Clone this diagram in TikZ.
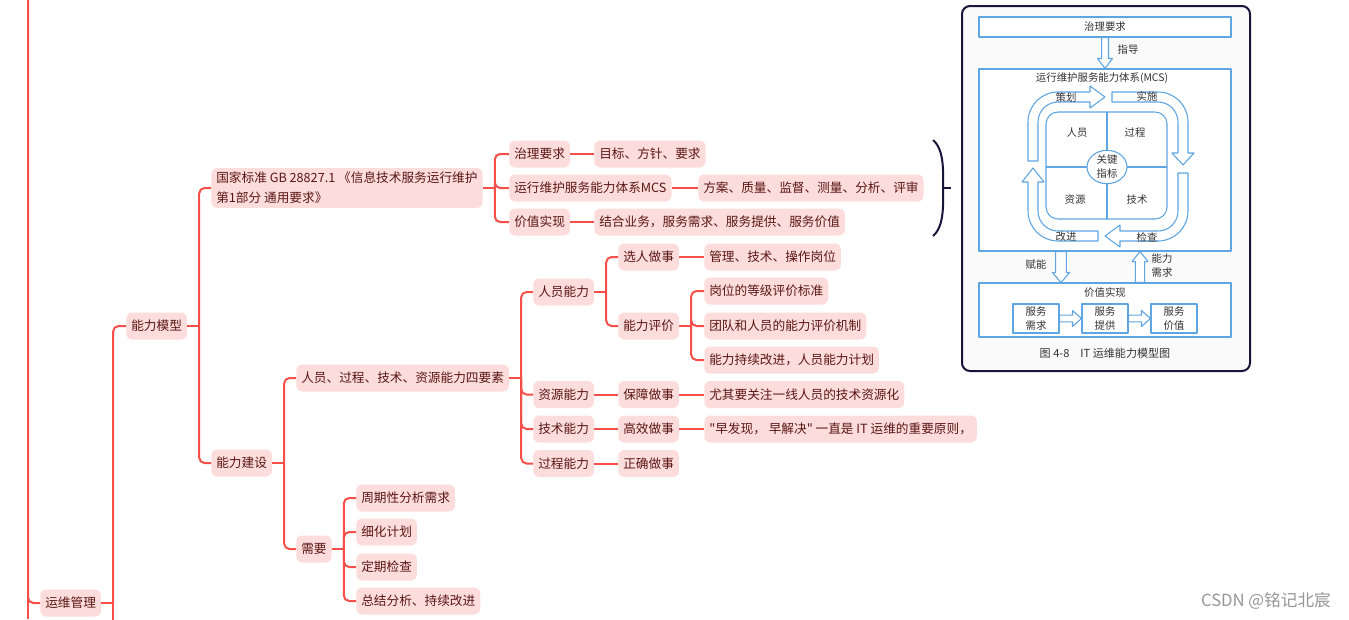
\documentclass[tikz,border=0pt]{standalone}
\usepackage{fontspec}
\newfontfamily\cjk{Noto Sans CJK SC}
\usetikzlibrary{shapes.geometric}
\definecolor{linkred}{RGB}{246,78,72}
\definecolor{topicfill}{RGB}{253,221,219}
\definecolor{topictext}{RGB}{90,22,22}
\definecolor{figblue}{RGB}{95,165,225}
\definecolor{figtext}{RGB}{50,50,50}
\definecolor{figback}{RGB}{250,250,250}
\definecolor{framenavy}{RGB}{22,22,58}
\definecolor{markgray}{RGB}{150,150,150}
\tikzset{
  topic/.style={anchor=west, fill=topicfill, text=topictext, rounded corners=4.5pt,
    inner xsep=3.75pt, inner ysep=3pt, minimum height=20.25pt, align=left,
    font=\cjk\fontsize{9.5}{15}\selectfont},
  link/.style={draw=linkred, line width=1.5pt},
  branch/.style={link, rounded corners=4pt},
  figbox/.style={draw=figblue, line width=0.8pt, fill=white, text=figtext, align=center,
    font=\cjk\fontsize{7.8}{10.5}\selectfont, inner sep=0pt},
  figlabel/.style={text=figtext, font=\cjk\fontsize{7.8}{10.5}\selectfont, align=center, inner sep=0pt},
  figarrow/.style={draw=figblue, line width=0.8pt, fill=white},
  hdown/.style n args={3}{to path={([xshift=-#1]\tikztostart) -- ([xshift=-#1,yshift=#3]\tikztotarget)
    -- ([xshift=-#2,yshift=#3]\tikztotarget) -- (\tikztotarget) -- ([xshift=#2,yshift=#3]\tikztotarget)
    -- ([xshift=#1,yshift=#3]\tikztotarget) -- ([xshift=#1]\tikztostart) -- cycle}},
  hup/.style n args={3}{to path={([xshift=-#1]\tikztostart) -- ([xshift=-#1,yshift=-#3]\tikztotarget)
    -- ([xshift=-#2,yshift=-#3]\tikztotarget) -- (\tikztotarget) -- ([xshift=#2,yshift=-#3]\tikztotarget)
    -- ([xshift=#1,yshift=-#3]\tikztotarget) -- ([xshift=#1]\tikztostart) -- cycle}},
  hright/.style n args={3}{to path={([yshift=#1]\tikztostart) -- ([yshift=#1,xshift=-#3]\tikztotarget)
    -- ([yshift=#2,xshift=-#3]\tikztotarget) -- (\tikztotarget) -- ([yshift=-#2,xshift=-#3]\tikztotarget)
    -- ([yshift=-#1,xshift=-#3]\tikztotarget) -- ([yshift=-#1]\tikztostart) -- cycle}}
}
\begin{document}
\begin{tikzpicture}[x=0.75pt, y=-0.75pt, line join=round]
\useasboundingbox (0,0) rectangle (1349,619);
% mind map topics
\node[topic] (yw) at (40,603) {运维管理};
\node[topic] (mx) at (126,326) {能力模型};
\node[topic] (gb) at (211,188) {国家标准 GB 28827.1 《信息技术服务运行维护\\第1部分 通用要求》};
\node[topic] (jb) at (211,463) {能力建设};
\node[topic] (zl) at (509,154) {治理要求};
\node[topic] (mcsn) at (509,188) {运行维护服务能力体系MCS};
\node[topic] (jz) at (509,222) {价值实现};
\node[topic] (mb) at (594,154) {目标、方针、要求};
\node[topic] (fa) at (698,188) {方案、质量、监督、测量、分析、评审};
\node[topic] (jh) at (594,222) {结合业务，服务需求、服务提供、服务价值};
\node[topic] (sy) at (296,378) {人员、过程、技术、资源能力四要素};
\node[topic] (xy) at (296,549) {需要};
\node[topic] (ry) at (533,292) {人员能力};
\node[topic] (zy) at (533,394.5) {资源能力};
\node[topic] (js) at (533,429) {技术能力};
\node[topic] (gc) at (533,463.5) {过程能力};
\node[topic] (xr) at (618,257) {选人做事};
\node[topic] (pj) at (618,326) {能力评价};
\node[topic] (bz) at (618,394.5) {保障做事};
\node[topic] (gx) at (618,429) {高效做事};
\node[topic] (zq) at (618,463.5) {正确做事};
\node[topic] (gl) at (704,257) {管理、技术、操作岗位};
\node[topic] (pa) at (704,291) {岗位的等级评价标准};
\node[topic] (pb) at (704,326) {团队和人员的能力评价机制};
\node[topic] (pc) at (704,360) {能力持续改进，人员能力计划};
\node[topic] (yq) at (704,394.5) {尤其要关注一线人员的技术资源化};
\node[topic] (zf) at (704,429) {"早发现， 早解决" 一直是 IT 运维的重要原则，};
\node[topic] (na) at (356,498) {周期性分析需求};
\node[topic] (nb) at (356,532) {细化计划};
\node[topic] (nc) at (356,567) {定期检查};
\node[topic] (nd) at (356,601) {总结分析、持续改进};
% mind map links
\coordinate (rt) at (28,0);
\coordinate (rb) at (28,619);
\draw[link] (rt) -- (rb);
\draw[branch] (rt) |- (yw.west);
\draw[link] (yw.east) -- ++(12,0) -- ++(0,30);
\draw[branch] (yw.east) ++(12,0) |- (mx.west);
\draw[link] (mx.east) -- ++(12,0);
\foreach \c in {gb,jb} \draw[branch] (mx.east) ++(12,0) |- (\c.west);
\draw[link] (gb.east) -- ++(12,0);
\foreach \c in {zl,mcsn,jz} \draw[branch] (gb.east) ++(12,0) |- (\c.west);
\draw[link] (zl.east) -- (mb.west);
\draw[link] (mcsn.east) -- (fa.west);
\draw[link] (jz.east) -- (jh.west);
\draw[link] (jb.east) -- ++(12,0);
\foreach \c in {sy,xy} \draw[branch] (jb.east) ++(12,0) |- (\c.west);
\draw[link] (sy.east) -- ++(12,0);
\foreach \c in {ry,zy,js,gc} \draw[branch] (sy.east) ++(12,0) |- (\c.west);
\draw[link] (ry.east) -- ++(12,0);
\foreach \c in {xr,pj} \draw[branch] (ry.east) ++(12,0) |- (\c.west);
\draw[link] (zy.east) -- (bz.west);
\draw[link] (js.east) -- (gx.west);
\draw[link] (gc.east) -- (zq.west);
\draw[link] (xr.east) -- (gl.west);
\draw[link] (pj.east) -- ++(12,0);
\foreach \c in {pa,pb,pc} \draw[branch] (pj.east) ++(12,0) |- (\c.west);
\draw[link] (bz.east) -- (yq.west);
\draw[link] (gx.east) -- (zf.west);
\draw[link] (xy.east) -- ++(12,0);
\foreach \c in {na,nb,nc,nd} \draw[branch] (xy.east) ++(12,0) |- (\c.west);
% brace
\draw[framenavy, line width=1.5pt] (933,140) .. controls (945,150) and (943,175) .. (943,188)
  .. controls (943,201) and (945,226) .. (933,236);
\draw[framenavy, line width=1.5pt] (943,188) -- (951,188);
% IT model figure
\draw[framenavy, line width=1.5pt, fill=figback, rounded corners=6pt] (962,6) rectangle (1250,371);
\node[figbox, minimum width=189pt, minimum height=15pt] (gov) at (1105,27) {治理要求};
\node[figbox, minimum width=189pt, minimum height=136.5pt] (mcs) at (1105,160) {};
\node[figlabel] (mcst) at (1102,78) {运行维护服务能力体系(MCS)};
\node[figbox, minimum width=189pt, minimum height=40.5pt] (val) at (1105,310) {};
\node[figlabel] (valt) at (1105,293) {价值实现};
\node[figbox, minimum width=34.5pt, minimum height=21.75pt] (sd) at (1036,318.5) {服务\\需求};
\node[figbox, minimum width=34.5pt, minimum height=21.75pt] (sp) at (1105,318.5) {服务\\提供};
\node[figbox, minimum width=34.5pt, minimum height=21.75pt] (sv) at (1174,318.5) {服务\\价值};
\draw[figarrow] (sd.east) to[hright={2.5pt}{6pt}{6.75pt}] (sp.west);
\draw[figarrow] (sp.east) to[hright={2.5pt}{6pt}{6.75pt}] (sv.west);
\draw[figarrow] (gov.south) to[hdown={2.6pt}{5.6pt}{7.5pt}] (mcs.north);
\node[figlabel] (zd) at (1128,50) {指导};
\coordinate (fa1) at ([xshift=-33pt]mcs.south);
\coordinate (fa2) at (fa1 |- val.north);
\draw[figarrow] (fa1) to[hdown={4pt}{6.5pt}{7.5pt}] (fa2);
\node[figlabel] (fn) at (1036,265) {赋能};
\coordinate (xq1) at ([xshift=26.25pt]val.north);
\coordinate (xq2) at (xq1 |- mcs.south);
\draw[figarrow] (xq1) to[hup={3.5pt}{6pt}{7.5pt}] (xq2);
\node[figlabel] (xq) at (1162,266) {能力\\需求};
% cycle bands
\draw[figarrow] (1028,161) -- (1028,122) arc[start angle=180, end angle=90, radius=22.5pt] -- (1090,92)
  -- (1090,86) -- (1105,97) -- (1090,108) -- (1090,102) -- (1058,102)
  arc[start angle=90, end angle=180, radius=15pt] -- (1038,161) -- cycle;
\draw[figarrow] (1112,92) -- (1158,92) arc[start angle=90, end angle=0, radius=22.5pt] -- (1188,153)
  -- (1194,153) -- (1183,165) -- (1172,153) -- (1178,153) -- (1178,122)
  arc[start angle=0, end angle=90, radius=15pt] -- (1112,102) -- cycle;
\draw[figarrow] (1178,173) -- (1188,173) -- (1188,211) arc[start angle=0, end angle=-90, radius=22.5pt]
  -- (1120,241) -- (1120,247) -- (1105,236) -- (1120,225) -- (1120,231) -- (1158,231)
  arc[start angle=-90, end angle=0, radius=15pt] -- cycle;
\draw[figarrow] (1098,231) -- (1098,241) -- (1058,241) arc[start angle=270, end angle=180, radius=22.5pt]
  -- (1028,182) -- (1022,182) -- (1033,168) -- (1044,182) -- (1038,182) -- (1038,211)
  arc[start angle=180, end angle=270, radius=15pt] -- cycle;
\node[figlabel] (ch) at (1066,98) {策划};
\node[figlabel] (ss) at (1147,97) {实施};
\node[figlabel] (jc) at (1147,237) {检查};
\node[figlabel] (gj) at (1066,237) {改进};
% inner square with key indicators
\draw[figblue, line width=0.8pt, rounded corners=9pt] (1046,112) rectangle (1167,219);
\draw[figblue, line width=0.8pt] (1107,112) -- (1107,219);
\draw[figblue, line width=0.8pt] (1046,167) -- (1167,167);
\node[figbox, ellipse, minimum width=30pt, minimum height=22pt] (key) at (1107,167) {关键\\指标};
\node[figlabel] (ry2) at (1077,133) {人员};
\node[figlabel] (gc2) at (1135,133) {过程};
\node[figlabel] (zy2) at (1075,200) {资源};
\node[figlabel] (js2) at (1137,200) {技术};
\node[figlabel, font=\cjk\fontsize{8.3}{10}\selectfont] (cap) at (1105,353) {图 4-8\quad IT 运维能力模型图};
% watermark
\node[text=markgray, font=\cjk\fontsize{12.5}{14}\selectfont, inner sep=0pt] (wm) at (1266,601) {CSDN @铭记北宸};
\end{tikzpicture}
\end{document}
